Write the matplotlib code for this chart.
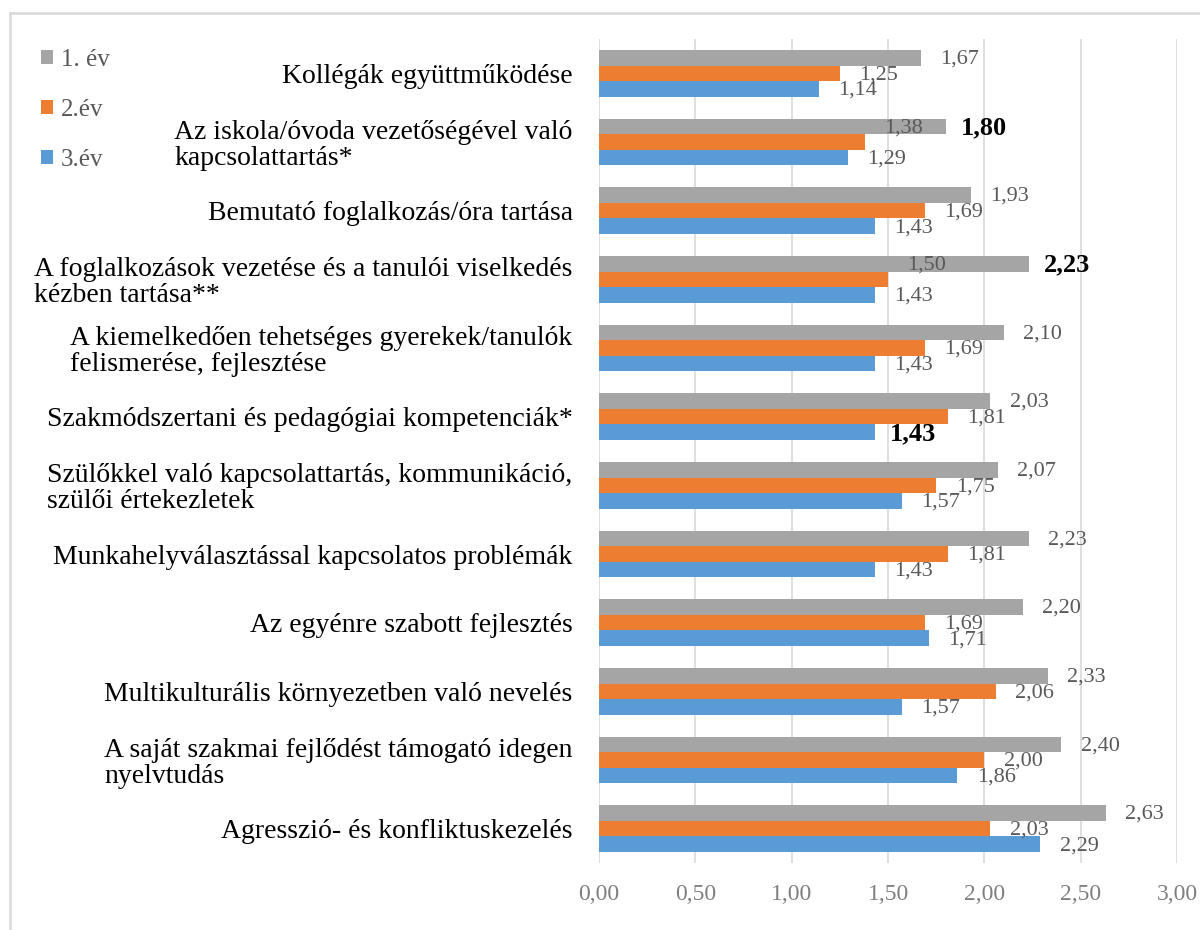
import numpy as np
import matplotlib.pyplot as plt
from matplotlib.patches import Patch
from matplotlib.lines import Line2D
from matplotlib.ticker import FuncFormatter

plt.rcParams['font.family'] = ['Liberation Serif', 'DejaVu Serif']

CATEGORIES = [
    "Kollégák együttműködése",
    "Az iskola/óvoda vezetőségével való\nkapcsolattartás*",
    "Bemutató foglalkozás/óra tartása",
    "A foglalkozások vezetése és a tanulói viselkedés\nkézben tartása**",
    "A kiemelkedően tehetséges gyerekek/tanulók\nfelismerése, fejlesztése",
    "Szakmódszertani és pedagógiai kompetenciák*",
    "Szülőkkel való kapcsolattartás, kommunikáció,\nszülői értekezletek",
    "Munkahelyválasztással kapcsolatos problémák",
    "Az egyénre szabott fejlesztés",
    "Multikulturális környezetben való nevelés",
    "A saját szakmai fejlődést támogató idegen\nnyelvtudás",
    "Agresszió- és konfliktuskezelés",
]
SERIES = ["1. év", "2.év", "3.év"]
EV1 = [1.67, 1.80, 1.93, 2.23, 2.10, 2.03, 2.07, 2.23, 2.20, 2.33, 2.40, 2.63]
EV2 = [1.25, 1.38, 1.69, 1.50, 1.69, 1.81, 1.75, 1.81, 1.69, 2.06, 2.00, 2.03]
EV3 = [1.14, 1.29, 1.43, 1.43, 1.43, 1.43, 1.57, 1.43, 1.71, 1.57, 1.86, 2.29]
X_TICKS = [0.0, 0.5, 1.0, 1.5, 2.0, 2.5, 3.0]

# labels written in bold, and labels moved up one bar (series, category)
BOLD = [(0, 1), (0, 3), (2, 5)]
MOVED_UP = [(1, 1), (1, 3)]

COLORS = ["#A5A5A5", "#ED7D31", "#5B9BD5"]
BAR_H = 0.227

fig = plt.figure(figsize=(12, 9.3), dpi=100)
ax = fig.add_axes([0.4992, 0.072, 0.4817, 0.8861])

y = np.arange(len(CATEGORIES))
values = [EV1, EV2, EV3]
for s, vals in enumerate(values):
    pos = y + (s - 1) * BAR_H
    ax.barh(pos, vals, height=BAR_H, color=COLORS[s], label=SERIES[s],
            zorder=2)
    for c, v in enumerate(vals):
        ypos = pos[c] - (BAR_H if (s, c) in MOVED_UP else 0)
        txt = f"{v:.2f}".replace('.', ',')
        if (s, c) in BOLD:
            ax.annotate(txt, (v, ypos), xytext=(11, -1),
                        textcoords='offset points', ha='left', va='center',
                        fontsize=19, fontweight='bold', color='black',
                        zorder=3)
        else:
            ax.annotate(txt, (v, ypos), xytext=(14, -1),
                        textcoords='offset points', ha='left', va='center',
                        fontsize=16, color='#595959', zorder=3)

ax.set_ylim(len(CATEGORIES) - 0.5, -0.5)
ax.set_xlim(0, 3)
ax.set_xticks(X_TICKS)
ax.xaxis.set_major_formatter(FuncFormatter(lambda v, p: f"{v:.2f}".replace('.', ',')))
ax.set_yticks(y)
ax.set_yticklabels(CATEGORIES)
for lbl in ax.get_yticklabels():
    lbl.set_multialignment('left')
    lbl.set_linespacing(1.03)
ax.tick_params(axis='y', length=0, pad=19, labelsize=20, labelcolor='black')
ax.tick_params(axis='x', length=0, pad=15, labelsize=17, labelcolor='#7f7f7f')
ax.grid(axis='x', color='#d9d9d9', linewidth=1.2, zorder=0)
for sp in ax.spines.values():
    sp.set_visible(False)

handles = [Patch(facecolor=COLORS[i], label=SERIES[i]) for i in range(3)]
fig.legend(handles=handles, loc='upper left', bbox_to_anchor=(0.0235, 0.961),
           frameon=False, fontsize=18, handlelength=0.48, handleheight=0.48,
           handletextpad=0.32, labelspacing=1.13, borderpad=0,
           labelcolor='#595959')

# outer chart frame (right and bottom edges fall outside the picture)
fig.add_artist(Line2D([10 / 1200, 1], [1 - 13 / 930, 1 - 13 / 930],
                      color='#d9d9d9', linewidth=1.8))
fig.add_artist(Line2D([10 / 1200, 10 / 1200], [0, 1 - 13 / 930],
                      color='#d9d9d9', linewidth=1.8))

plt.savefig("out.png", dpi=100)
